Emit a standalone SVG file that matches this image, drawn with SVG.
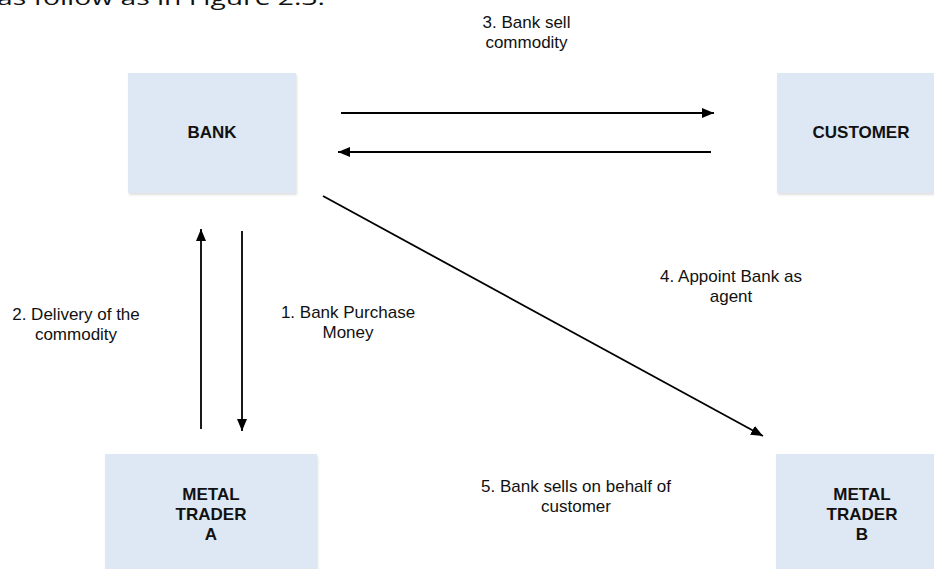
<svg xmlns="http://www.w3.org/2000/svg" width="934" height="569" viewBox="0 0 934 569">
<style>
.node{fill:#dde8f4;filter:url(#sh);}
.nt{font-family:"Liberation Sans",Arial,sans-serif;font-size:17px;font-weight:bold;fill:#111;text-anchor:middle;}
.lb{font-family:"Liberation Sans",Arial,sans-serif;font-size:17px;fill:#111;text-anchor:middle;}
.ln{stroke:#000;stroke-width:1.8;fill:none;marker-end:url(#ah);}
.top{font-family:"Open Sans","Liberation Sans",sans-serif;font-size:20px;fill:#111;}
</style>
<defs>
<filter id="sh" x="-10%" y="-10%" width="120%" height="120%">
<feDropShadow dx="1" dy="2" stdDeviation="1.2" flood-color="#000" flood-opacity="0.12"/>
</filter>
<marker id="ah" markerUnits="userSpaceOnUse" markerWidth="13" markerHeight="11" refX="12" refY="5" orient="auto">
<path d="M0,0 L12,5 L0,10 z" fill="#000"/>
</marker>
</defs>
<text class="top" x="-3" y="5" textLength="328" lengthAdjust="spacingAndGlyphs">as follow as in Figure 2.3.</text>
<g id="bank">
<rect class="node" x="128" y="73" width="168" height="120"/>
<text class="nt" x="212" y="138">BANK</text>
</g>
<g id="customer">
<rect class="node" x="777" y="73" width="168" height="120"/>
<text class="nt" x="861" y="138">CUSTOMER</text>
</g>
<g id="traderA">
<rect class="node" x="105" y="454" width="212" height="130"/>
<text class="nt" x="211" y="500">METAL</text>
<text class="nt" x="211" y="520">TRADER</text>
<text class="nt" x="211" y="540">A</text>
</g>
<g id="traderB">
<rect class="node" x="776" y="454" width="212" height="130"/>
<text class="nt" x="862" y="500">METAL</text>
<text class="nt" x="862" y="520">TRADER</text>
<text class="nt" x="862" y="540">B</text>
</g>
<g id="connectors">
<line class="ln" x1="341" y1="113" x2="714" y2="113"/>
<line class="ln" x1="711" y1="152" x2="338" y2="152"/>
<line class="ln" x1="201" y1="429" x2="201" y2="229"/>
<line class="ln" x1="242" y1="231" x2="242" y2="431"/>
<line class="ln" x1="323" y1="196" x2="763" y2="436"/>
</g>
<g id="labels">
<text class="lb" x="526.5" y="28">3. Bank sell</text>
<text class="lb" x="526.5" y="48">commodity</text>
<text class="lb" x="76" y="320">2. Delivery of the</text>
<text class="lb" x="76" y="340">commodity</text>
<text class="lb" x="348" y="318">1. Bank Purchase</text>
<text class="lb" x="348" y="338">Money</text>
<text class="lb" x="731" y="282">4. Appoint Bank as</text>
<text class="lb" x="731" y="302">agent</text>
<text class="lb" x="576" y="492">5. Bank sells on behalf of</text>
<text class="lb" x="576" y="512">customer</text>
</g>
</svg>
